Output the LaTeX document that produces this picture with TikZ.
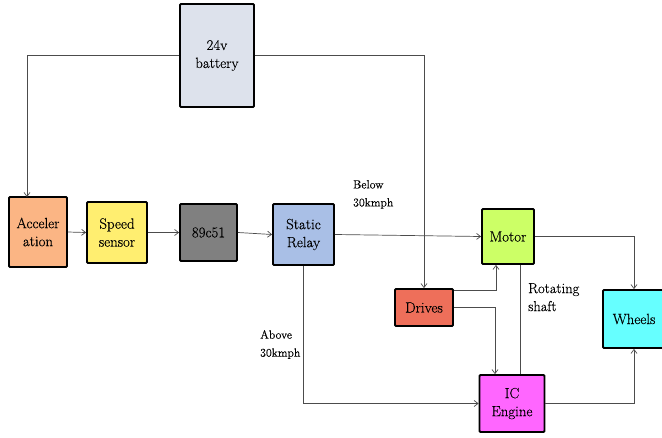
\documentclass[tikz,border=0pt]{standalone}
\usepackage{fontspec}
\setmainfont[FakeBold=0.35]{Latin Modern Roman}
\usetikzlibrary{arrows.meta}
\definecolor{cbat}{HTML}{DDE2EC}
\definecolor{cacc}{HTML}{FBB584}
\definecolor{cspd}{HTML}{FFEE70}
\definecolor{cmcu}{HTML}{808080}
\definecolor{crel}{HTML}{A9BFE6}
\definecolor{cmot}{HTML}{CCFF66}
\definecolor{cdrv}{HTML}{EE6F5A}
\definecolor{cwhl}{HTML}{66FFFF}
\definecolor{cice}{HTML}{FF66FF}
\tikzset{
  blk/.style={draw=black, line width=1.8pt, rounded corners=1pt, align=center, inner sep=0pt,
    text=black, font=\fontsize{14.8}{18}\selectfont},
  conn/.style={draw=black!70, line width=0.7pt, -{Straight Barb[length=4pt,width=6pt]}},
  plain/.style={draw=black!70, line width=0.7pt},
  lbl/.style={align=left, anchor=north west, inner sep=0pt, text=black, font=\fontsize{11.8}{18}\selectfont},
}
\begin{document}
\begin{tikzpicture}[x=1pt,y=-1pt]
\useasboundingbox (0,0) rectangle (662,437);
\node[blk, fill=cbat, minimum width=74pt, minimum height=103pt] (bat) at (217,55.5) {24v\\battery};
\node[blk, fill=cacc, minimum width=58pt, minimum height=70pt] (acc) at (38,232) {Acceler\\ation};
\node[blk, fill=cspd, minimum width=60pt, minimum height=61pt] (spd) at (117,232.5) {Speed\\sensor};
\node[blk, fill=cmcu, minimum width=57pt, minimum height=57pt] (mcu) at (208.5,232.5) {89c51};
\node[blk, fill=crel, minimum width=61pt, minimum height=61pt] (rel) at (303.5,234.5) {Static\\Relay};
\node[blk, fill=cmot, minimum width=52pt, minimum height=55pt] (mot) at (508,236.5) {Motor};
\node[blk, fill=cdrv, minimum width=58pt, minimum height=37pt] (drv) at (424,307.5) {Drives};
\node[blk, fill=cice, minimum width=65pt, minimum height=57pt] (ice) at (512,403.5) {IC\\Engine};
\node[blk, fill=cwhl, minimum width=62pt, minimum height=58pt] (whl) at (634,319) {Wheels};
\coordinate (accin) at (27,197);
\draw[conn] (bat.west) -| (accin);
\draw[conn] (bat.east) -| (drv.north);
\draw[conn] (acc.east) -- (spd.west);
\draw[conn] (spd.east) -- (mcu.west);
\draw[conn] (mcu.east) -- (rel.west);
\draw[conn] (rel.east) -- (mot.west);
\draw[conn] (rel.south) |- (ice.west);
\draw[conn] ([yshift=-2pt]drv.north east) -| ([xshift=-12pt]mot.south);
\draw[conn] (drv.east) -| ([xshift=-17pt]ice.north);
\draw[plain] ([xshift=12pt]mot.south) -- ([xshift=8pt]ice.north);
\draw[conn] (mot.east) -| (whl.north);
\draw[conn] (ice.east) -| (whl.south);
\node[lbl] (below) at (353,180) {Below\\30kmph};
\node[lbl] (above) at (260,330) {Above\\30kmph};
\node[lbl, font=\fontsize{14.5}{18}\selectfont] (shaft) at (528,283) {Rotating\\shaft};
\end{tikzpicture}
\end{document}
